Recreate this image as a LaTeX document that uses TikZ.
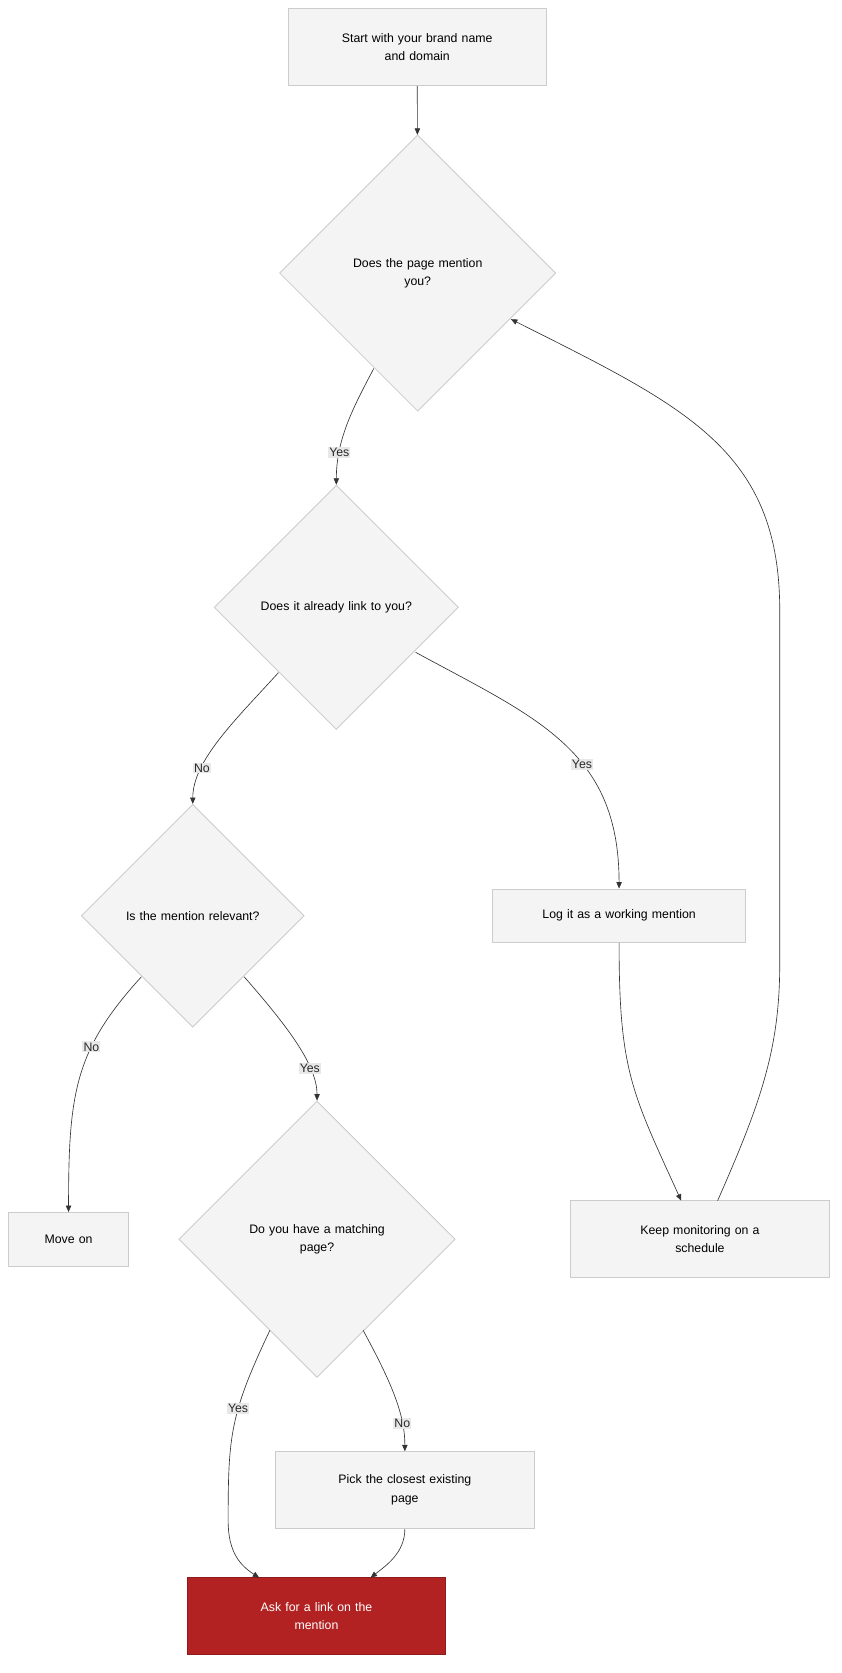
\documentclass[tikz,border=0pt]{standalone}
\usepackage{fontspec}
\setmainfont{Liberation Sans}
\usetikzlibrary{shapes.geometric,arrows.meta}
\definecolor{nfill}{HTML}{F4F4F4}
\definecolor{nline}{HTML}{CCCCCC}
\definecolor{red1}{HTML}{B22222}
\definecolor{lbl}{HTML}{E8E8E8}
\definecolor{ink}{HTML}{333333}
\begin{document}
\begin{tikzpicture}[x=1pt,y=-1pt,
  box/.style={draw=nline,fill=nfill,line width=0.8pt,minimum width=241pt,minimum height=72pt,align=center,text width=200pt,font=\fontsize{11.5}{17}\selectfont,inner sep=0pt},
  sbox/.style={box,minimum height=50pt},
  dia/.style={draw=nline,fill=nfill,line width=0.8pt,diamond,inner sep=0pt,align=center,font=\fontsize{11.5}{17}\selectfont},
  lab/.style={fill=lbl,inner sep=1pt,font=\fontsize{11.5}{14}\selectfont,text=ink!80!black},
  ed/.style={draw=ink,line width=0.6pt,-{Triangle[length=6pt,width=5pt]}}]
\useasboundingbox (0,0) rectangle (786,1562);
\node[box] (start) at (389.5,44) {Start with your brand name\\and domain};
\node[dia,minimum width=258pt,minimum height=258pt,text width=170pt] (d1) at (390,255) {Does the page mention\\you?};
\node[dia,minimum width=228pt,minimum height=228pt,text width=190pt] (d2) at (314,567) {Does it already link to you?};
\node[dia,minimum width=208pt,minimum height=208pt,text width=180pt] (d3) at (180,855) {Is the mention relevant?};
\node[sbox,minimum width=236pt] (log) at (578,855) {Log it as a working mention};
\node[sbox,minimum width=112pt,text width=100pt] (move) at (64,1157) {Move on};
\node[dia,minimum width=258pt,minimum height=258pt,text width=180pt] (d4) at (296,1157) {Do you have a matching\\page?};
\node[box] (keep) at (653.5,1157) {Keep monitoring on a\\schedule};
\node[box] (pick) at (378,1391) {Pick the closest existing\\page};
\node[box,fill=red1,draw=red1!80!black,text=white] (ask) at (295.5,1509) {Ask for a link on the\\mention};
\coordinate (k1) at (670,1121);
\draw[ed] (start) -- (d1);
\draw[ed] (349,344) .. controls (330,380) and (314,410) .. node[lab,pos=0.75]{Yes} (d2.north);
\draw[ed] (260,628) .. controls (220,672) and (180,710) .. node[lab,pos=0.72]{No} (d3.north);
\draw[ed] (388,609) .. controls (500,670) and (578,700) .. node[lab,pos=0.6]{Yes} (log.north);
\draw[ed] (132,912) .. controls (70,980) and (64,1020) .. node[lab,pos=0.35]{No} (move.north);
\draw[ed] (228,912) .. controls (270,960) and (296,995) .. node[lab,pos=0.7]{Yes} (d4.north);
\draw[ed] (log.south) .. controls (578,1000) and (590,1020) .. (636,1121);
\draw[ed] (k1) .. controls (710,1030) and (728,980) .. (728,900) -- (728,570) .. controls (728,420) and (640,380) .. (477,298);
\draw[ed] (252,1242) .. controls (215,1320) and (213,1340) .. (213,1420) node[lab,pos=0.4]{Yes} .. controls (213,1450) and (225,1462) .. (242,1473);
\draw[ed] (339,1242) .. controls (365,1290) and (378,1320) .. node[lab,pos=0.75]{No} (pick.south |- 0,1355);
\draw[ed] (pick.south) .. controls (378,1450) and (360,1462) .. (346,1473);
\end{tikzpicture}
\end{document}
